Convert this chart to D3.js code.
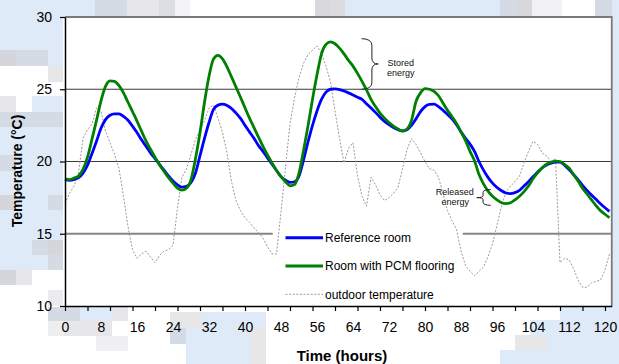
<!DOCTYPE html>
<html><head><meta charset="utf-8">
<script src="https://cdn.jsdelivr.net/npm/d3@7"></script>
<style>
body{margin:0;background:#fff;}
svg{display:block;font-family:"Liberation Sans",Arial,sans-serif;}
</style>
</head><body>
<svg id="chart" width="619" height="364"></svg>
<script>
// ---------- data ----------
const hours = d3.range(0, 122); // hourly samples 0..121

const referenceRoom = [
 18.75,18.7,18.75,18.88,19.2,19.75,20.55,21.4,22.3,22.9,
 23.2,23.3,23.3,23.12,22.85,22.45,22.0,21.5,21.05,20.6,
 20.2,19.8,19.4,19.0,18.65,18.38,18.22,18.28,18.55,19.2,
 20.4,21.6,22.7,23.6,23.9,23.97,23.88,23.67,23.35,22.98,
 22.5,22.05,21.6,21.1,20.7,20.25,19.82,19.38,18.95,18.7,
 18.55,18.6,19.0,20.1,21.35,22.5,23.5,24.3,24.8,25.0,
 25.02,24.98,24.88,24.75,24.6,24.45,24.3,24.0,23.7,23.4,
 23.07,22.78,22.55,22.35,22.2,22.12,22.2,22.5,22.95,23.45,
 23.8,23.95,23.97,23.8,23.55,23.25,22.95,22.55,22.05,21.6,
 21.2,20.7,20.0,19.4,18.9,18.5,18.2,17.98,17.82,17.78,
 17.85,18.0,18.3,18.6,18.95,19.25,19.55,19.75,19.88,19.95,
 19.95,19.75,19.45,19.1,18.75,18.35,18.0,17.68,17.38,17.07,
 16.8,16.55
];

const pcmRoom = [
 18.8,18.75,18.85,19.0,19.45,20.3,21.55,22.85,24.2,25.2,
 25.58,25.55,25.25,24.75,24.1,23.45,22.8,22.1,21.42,20.85,
 20.3,19.78,19.32,18.88,18.5,18.15,18.02,18.15,18.75,20.2,
 22.0,24.1,25.9,27.1,27.35,27.1,26.55,25.86,25.15,24.45,
 23.72,23.0,22.35,21.68,21.05,20.45,19.9,19.38,18.95,18.6,
 18.32,18.4,19.2,20.75,22.45,24.3,26.0,27.45,28.1,28.28,
 28.15,27.85,27.45,27.0,26.6,26.1,25.55,24.95,24.3,23.8,
 23.35,23.0,22.7,22.45,22.25,22.1,22.25,22.85,24.15,24.75,
 25.05,25.0,24.85,24.55,24.05,23.55,23.1,22.63,22.05,21.45,
 20.7,20.05,19.1,18.45,17.95,17.6,17.35,17.15,17.09,17.15,
 17.35,17.6,17.92,18.3,18.8,19.22,19.55,19.81,19.95,20.03,
 20.0,19.8,19.55,19.1,18.65,18.15,17.75,17.35,16.95,16.6,
 16.35,16.12
];

const outdoorTemp = [
 17.1,17.8,18.3,19.2,21.6,22.2,22.6,23.7,23.5,22.1,
 21.3,20.5,19.5,17.6,15.5,13.9,13.3,13.6,13.8,13.4,
 13.0,13.5,13.8,13.9,14.2,16.8,18.9,19.5,20.5,21.5,
 22.2,22.8,23.7,23.9,23.0,22.0,20.6,18.6,17.3,16.6,
 16.1,15.8,15.4,15.1,14.7,14.1,13.6,13.6,16.5,19.6,
 22.6,24.4,25.8,26.8,27.4,27.7,28.0,27.5,26.6,25.5,
 23.5,21.6,19.9,20.9,21.3,19.0,17.6,16.9,18.9,18.4,
 17.7,17.3,17.5,17.8,18.2,19.5,20.8,21.6,21.2,20.6,
 20.0,19.5,19.4,18.9,17.8,16.6,15.9,15.3,13.8,12.8,
 12.4,12.1,12.4,12.7,13.4,14.3,15.6,16.9,17.9,18.3,
 18.6,19.0,19.9,20.7,21.4,21.2,20.6,20.4,20.0,20.2,
 13.0,13.3,13.2,12.6,11.8,11.3,11.3,11.6,11.7,11.8,
 12.5,13.6
];

const xTickHours  = [0,5,10,15,20,25,30,35,40,45,50,55,60,65,70,75,80,85,90,95,100,105,110,115,120];
const xLabelHours = [0,8,16,24,32,40,48,56,64,72,80,88,96,104,112,120];
const yTickValues = [10,15,20,25,30];
const seriesNames = ["Reference room","Room with PCM flooring","outdoor temperature"];
const seriesColors = ["#0000ff","#008000","#999999"];

// ---------- layout ----------
const svg = d3.select("#chart");
const x = d3.scaleLinear().domain([0, 121.5]).range([65, 611.75]);
const y = d3.scaleLinear().domain([10, 30]).range([306, 17]);

// decorative mosaic background (from the reference image)
const lb="#deeaf8", gb="#d5dbe4", lg="#e7e7ea", g="#d4d6dc";
const deco = [
 [0,0,95,17,lb],[95,0,32,17,gb],[127,0,32,17,lg],[159,0,16,17,"#dcdde2"],[175,0,15,17,"#f3f3f5"],
 [315,0,15,17,"#d9d9dd"],[330,0,15,17,"#dcdce0"],[345,0,155,17,lb],[500,0,16,17,gb],[516,0,16,17,"#d8d8dc"],
 [532,0,30,17,"#f2f2f4"],[595,0,24,17,gb],
 [0,17,63,33,lb],[0,50,16,16,g],[16,50,32,16,gb],[48,50,15,16,lb],[48,66,15,16,lg],
 [0,96,16,16,lg],[32,96,31,16,lb],[0,112,63,15,gb],[0,127,63,28,lb],
 [0,155,16,16,gb],[16,155,47,16,lb],[0,171,63,24,lb],
 [0,195,16,15,g],[16,195,32,15,lb],[48,195,15,15,gb],[0,210,63,30,lb],
 [0,240,32,15,lb],[32,240,16,15,gb],[48,240,15,15,g],[0,255,48,15,lb],[48,255,15,15,gb],
 [0,270,16,15,g],[16,270,16,15,lg],[48,290,15,16,"#ececee"],
 [48,307,32,14,gb],[80,307,32,14,lb],[112,307,16,14,lg],[48,321,16,15,"#eeeef0"],[64,321,48,15,lg],[96,336,32,15,"#f0f0f2"],
 [170,312,32,16,lg],[202,312,64,16,lb],[170,328,16,16,gb],[186,328,64,36,lb],[250,328,16,36,lg],
 [560,307,52,13,lb],[530,320,82,15,lb],[515,335,32,15,lg],[547,335,65,15,lb],[500,350,112,14,lb],
 [612,0,7,364,lb]
];
svg.append("g").selectAll("rect").data(deco).join("rect")
  .attr("x",d=>d[0]).attr("y",d=>d[1]).attr("width",d=>d[2]).attr("height",d=>d[3]).attr("fill",d=>d[4]);

// plot area
svg.append("rect").attr("x", x(0)).attr("y", y(30))
  .attr("width", x(121.5)-x(0)).attr("height", y(10)-y(30)).attr("fill","#fff");

// gridlines
svg.append("g").selectAll("line").data([15,20,25]).join("line")
  .attr("x1", x(0)).attr("x2", x(121.5))
  .attr("y1", d=>y(d)).attr("y2", d=>y(d))
  .attr("stroke", d=> d===15 ? "#858585" : "#3a3a3a")
  .attr("stroke-width", d=> d===15 ? 2 : 1.1);

// legend background (white box hides gridline)
const legX = 272.7, legY0 = 237.7, legStep = 28.3;
svg.append("rect").attr("x", legX).attr("y", 226).attr("width", 190).attr("height", 77).attr("fill","#fff");

// series
const lineLinear = d3.line().x((d,i)=>x(hours[i])).y(d=>y(d));
const lineSmooth = d3.line().x((d,i)=>x(hours[i])).y(d=>y(d)).curve(d3.curveMonotoneX);

svg.append("path").datum(outdoorTemp).attr("d", lineLinear)
  .attr("fill","none").attr("stroke", seriesColors[2]).attr("stroke-width",1)
  .attr("stroke-dasharray","2,1.6");
svg.append("path").datum(referenceRoom).attr("d", lineSmooth)
  .attr("fill","none").attr("stroke", seriesColors[0]).attr("stroke-width",2.8);
svg.append("path").datum(pcmRoom).attr("d", lineSmooth)
  .attr("fill","none").attr("stroke", seriesColors[1]).attr("stroke-width",2.8);

// frame top/right
svg.append("path").attr("d", `M${x(0)},${y(30)}H${x(121.5)}V${y(10)}`)
  .attr("fill","none").attr("stroke","#7a7a7a").attr("stroke-width",1.8);

// axes
const xTicksAxis = d3.axisBottom(x).tickValues(xTickHours).tickFormat("").tickSize(5).tickSizeOuter(0);
const gx = svg.append("g").attr("transform",`translate(0,${y(10)})`).call(xTicksAxis);
gx.select(".domain").attr("stroke","#000").attr("stroke-width",1.5);
gx.selectAll(".tick line").attr("stroke","#000").attr("stroke-width",1.2);

const xLabelAxis = d3.axisBottom(x).tickValues(xLabelHours).tickSize(0).tickPadding(16.5);
const gxl = svg.append("g").attr("transform",`translate(0,${y(10)})`).call(xLabelAxis);
gxl.select(".domain").remove();
gxl.selectAll("text").attr("font-size",14).attr("font-family","Liberation Sans, Arial, sans-serif").attr("fill","#000");

const yAxis = d3.axisLeft(y).tickValues(yTickValues).tickSize(5).tickPadding(8).tickSizeOuter(0);
const gy = svg.append("g").attr("transform",`translate(${x(0)},0)`).call(yAxis);
gy.select(".domain").attr("stroke","#000").attr("stroke-width",1.5);
gy.selectAll(".tick line").attr("stroke","#000").attr("stroke-width",1.2);
gy.selectAll("text").attr("font-size",14).attr("font-family","Liberation Sans, Arial, sans-serif").attr("fill","#000");

// axis titles
svg.append("text").attr("transform","translate(22,171) rotate(-90)")
  .attr("text-anchor","middle").attr("font-size",14).attr("font-weight","bold").text("Temperature (°C)");
svg.append("text").attr("x",342).attr("y",361)
  .attr("text-anchor","middle").attr("font-size",15).attr("font-weight","bold").text("Time (hours)");

// legend entries
const leg = svg.append("g").selectAll("g").data(seriesNames).join("g")
  .attr("transform",(d,i)=>`translate(0,${legY0 + i*legStep})`);
leg.append("line").attr("x1",285.5).attr("x2",323).attr("y1",0).attr("y2",0)
  .attr("stroke",(d,i)=>seriesColors[i]).attr("stroke-width",(d,i)=> i<2 ? 3 : 1)
  .attr("stroke-dasharray",(d,i)=> i===2 ? "2,1.6" : null);
leg.append("text").attr("x",325).attr("y",4.3).attr("font-size",12).attr("fill","#000").text(d=>d);

// annotations
const ann = svg.append("g").attr("fill","none").attr("stroke","#222").attr("stroke-width",1);
// stored energy brace
{
  const bx = x(68.2), bl = x(65.9), tip = x(69.6);
  const yt = y(28.5), yb = y(25.0), ym = y(26.75);
  ann.append("path").attr("d",
    `M${bl},${yt} Q${bx},${yt} ${bx},${yt+7} L${bx},${ym-6} Q${bx},${ym} ${tip},${ym} Q${bx},${ym} ${bx},${ym+6} L${bx},${yb-7} Q${bx},${yb} ${bl},${yb}`);
}
// released energy brace
{
  const bx = x(92.9), br = x(94.6), tip = x(91.5);
  const yt = y(18.06), yb = y(16.97), ym = y(17.5);
  ann.append("path").attr("d",
    `M${br},${yt} Q${bx},${yt} ${bx},${yt+3} L${bx},${ym-2} Q${bx},${ym} ${tip},${ym} Q${bx},${ym} ${bx},${ym+2} L${bx},${yb-3} Q${bx},${yb} ${br},${yb}`);
}
const annText = svg.append("g").attr("font-size",9).attr("fill","#111").attr("text-anchor","middle");
annText.append("text").attr("x",x(74.6)).attr("y",y(26.6)).text("Stored");
annText.append("text").attr("x",x(74.6)).attr("y",y(25.95)).text("energy");
annText.append("text").attr("x",x(86.6)).attr("y",y(17.67)).text("Released");
annText.append("text").attr("x",x(86.7)).attr("y",y(17.02)).text("energy");
</script>
</body></html>
